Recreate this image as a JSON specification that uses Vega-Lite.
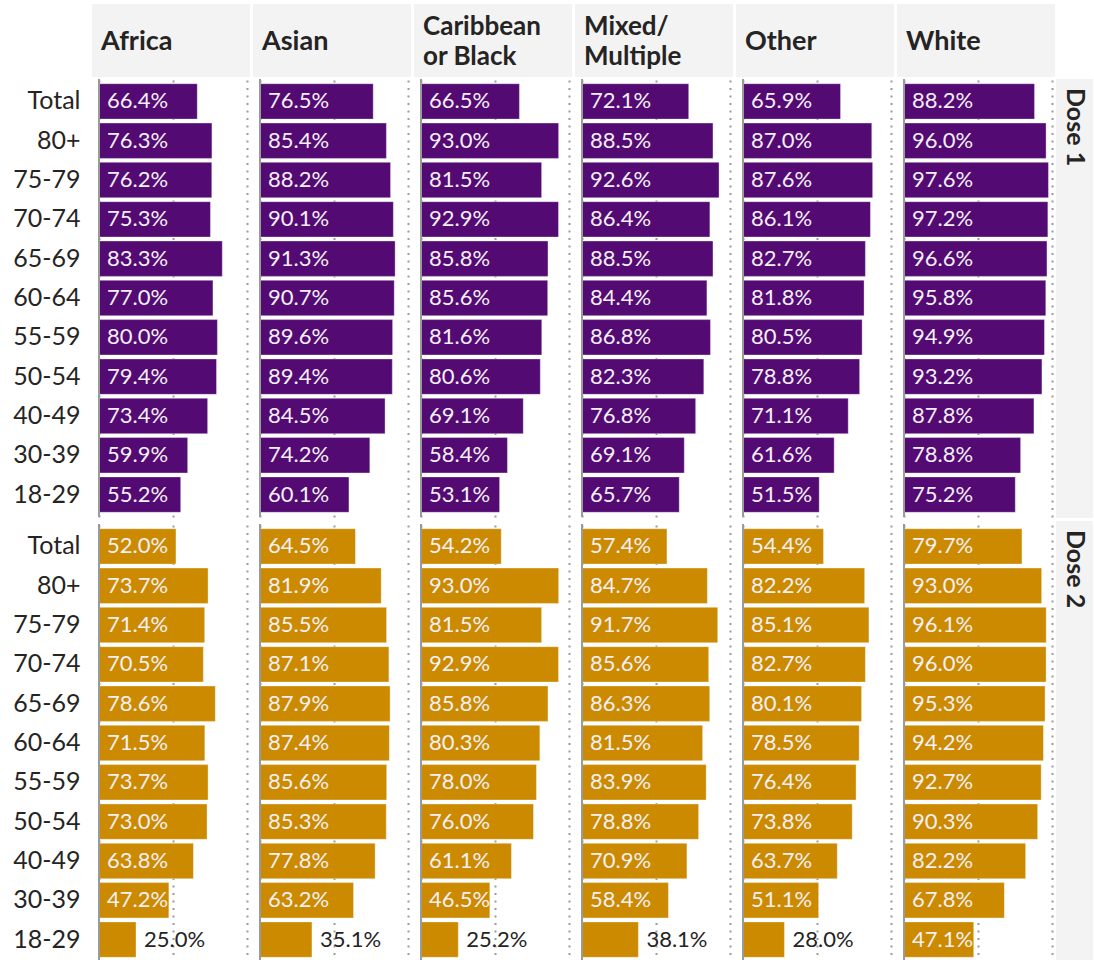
{
  "$schema": "https://vega.github.io/schema/vega-lite/v6.json",
  "background": "white",
  "padding": {"left": 12, "top": 4, "right": 0, "bottom": 0},
  "config": {
    "font": "Lato",
    "view": {"stroke": null}
  },
  "vconcat": [
    {
      "data": {
        "values": [
          {"e": "Africa", "t": "Africa", "s": "75-79"},
          {"e": "Asian", "t": "Asian", "s": "75-79"},
          {"e": "Caribbean or Black", "t": "Caribbean\nor Black", "s": "75-79"},
          {"e": "Mixed/Multiple", "t": "Mixed/\nMultiple", "s": "75-79"},
          {"e": "Other", "t": "Other", "s": "75-79"},
          {"e": "White", "t": "White", "s": "75-79"}
        ]
      },
      "facet": {
        "column": {
          "field": "e",
          "type": "nominal",
          "header": null,
          "sort": ["Africa", "Asian", "Caribbean or Black", "Mixed/Multiple", "Other", "White"]
        }
      },
      "spacing": 3,
      "spec": {
        "width": 148,
        "height": 73,
        "layer": [
          {
            "mark": {"type": "rect", "color": "#f3f3f3"},
            "encoding": {
              "x": {"datum": -0.047, "type": "quantitative", "scale": {"domain": [0, 1]}, "axis": null},
              "x2": {"datum": 1.02},
              "y": {
                "field": "s",
                "type": "nominal",
                "scale": {"paddingInner": 0, "paddingOuter": 0},
                "axis": {
                  "title": null,
                  "ticks": false,
                  "domain": false,
                  "labelColor": "transparent",
                  "labelFont": "Lato",
                  "labelFontSize": 25,
                  "labelPadding": 4
                }
              }
            }
          },
          {
            "transform": [{"filter": "indexof(datum.t, '\\n') < 0"}],
            "mark": {
              "type": "text",
              "align": "left",
              "baseline": "middle",
              "dx": 2,
              "dy": 1,
              "fontSize": 27,
              "fontWeight": "bold",
              "color": "#252423"
            },
            "encoding": {
              "x": {"datum": 0, "type": "quantitative"},
              "y": {"field": "s", "type": "nominal"},
              "text": {"field": "t"}
            }
          },
          {
            "transform": [{"filter": "indexof(datum.t, '\\n') >= 0"}],
            "mark": {
              "type": "text",
              "align": "left",
              "baseline": "middle",
              "dx": 2,
              "dy": -14,
              "fontSize": 26,
              "fontWeight": "bold",
              "color": "#252423",
              "lineBreak": "\n",
              "lineHeight": 30
            },
            "encoding": {
              "x": {"datum": 0, "type": "quantitative"},
              "y": {"field": "s", "type": "nominal"},
              "text": {"field": "t"}
            }
          }
        ]
      }
    },
    {
      "hconcat": [
        {
          "data": {
            "values": [
              {"e": "Africa", "d": "Dose 1", "a": "Total", "v": 0.664},
              {"e": "Africa", "d": "Dose 1", "a": "80+", "v": 0.763},
              {"e": "Africa", "d": "Dose 1", "a": "75-79", "v": 0.762},
              {"e": "Africa", "d": "Dose 1", "a": "70-74", "v": 0.753},
              {"e": "Africa", "d": "Dose 1", "a": "65-69", "v": 0.833},
              {"e": "Africa", "d": "Dose 1", "a": "60-64", "v": 0.770},
              {"e": "Africa", "d": "Dose 1", "a": "55-59", "v": 0.800},
              {"e": "Africa", "d": "Dose 1", "a": "50-54", "v": 0.794},
              {"e": "Africa", "d": "Dose 1", "a": "40-49", "v": 0.734},
              {"e": "Africa", "d": "Dose 1", "a": "30-39", "v": 0.599},
              {"e": "Africa", "d": "Dose 1", "a": "18-29", "v": 0.552},
              {"e": "Asian", "d": "Dose 1", "a": "Total", "v": 0.765},
              {"e": "Asian", "d": "Dose 1", "a": "80+", "v": 0.854},
              {"e": "Asian", "d": "Dose 1", "a": "75-79", "v": 0.882},
              {"e": "Asian", "d": "Dose 1", "a": "70-74", "v": 0.901},
              {"e": "Asian", "d": "Dose 1", "a": "65-69", "v": 0.913},
              {"e": "Asian", "d": "Dose 1", "a": "60-64", "v": 0.907},
              {"e": "Asian", "d": "Dose 1", "a": "55-59", "v": 0.896},
              {"e": "Asian", "d": "Dose 1", "a": "50-54", "v": 0.894},
              {"e": "Asian", "d": "Dose 1", "a": "40-49", "v": 0.845},
              {"e": "Asian", "d": "Dose 1", "a": "30-39", "v": 0.742},
              {"e": "Asian", "d": "Dose 1", "a": "18-29", "v": 0.601},
              {"e": "Caribbean or Black", "d": "Dose 1", "a": "Total", "v": 0.665},
              {"e": "Caribbean or Black", "d": "Dose 1", "a": "80+", "v": 0.930},
              {"e": "Caribbean or Black", "d": "Dose 1", "a": "75-79", "v": 0.815},
              {"e": "Caribbean or Black", "d": "Dose 1", "a": "70-74", "v": 0.929},
              {"e": "Caribbean or Black", "d": "Dose 1", "a": "65-69", "v": 0.858},
              {"e": "Caribbean or Black", "d": "Dose 1", "a": "60-64", "v": 0.856},
              {"e": "Caribbean or Black", "d": "Dose 1", "a": "55-59", "v": 0.816},
              {"e": "Caribbean or Black", "d": "Dose 1", "a": "50-54", "v": 0.806},
              {"e": "Caribbean or Black", "d": "Dose 1", "a": "40-49", "v": 0.691},
              {"e": "Caribbean or Black", "d": "Dose 1", "a": "30-39", "v": 0.584},
              {"e": "Caribbean or Black", "d": "Dose 1", "a": "18-29", "v": 0.531},
              {"e": "Mixed/Multiple", "d": "Dose 1", "a": "Total", "v": 0.721},
              {"e": "Mixed/Multiple", "d": "Dose 1", "a": "80+", "v": 0.885},
              {"e": "Mixed/Multiple", "d": "Dose 1", "a": "75-79", "v": 0.926},
              {"e": "Mixed/Multiple", "d": "Dose 1", "a": "70-74", "v": 0.864},
              {"e": "Mixed/Multiple", "d": "Dose 1", "a": "65-69", "v": 0.885},
              {"e": "Mixed/Multiple", "d": "Dose 1", "a": "60-64", "v": 0.844},
              {"e": "Mixed/Multiple", "d": "Dose 1", "a": "55-59", "v": 0.868},
              {"e": "Mixed/Multiple", "d": "Dose 1", "a": "50-54", "v": 0.823},
              {"e": "Mixed/Multiple", "d": "Dose 1", "a": "40-49", "v": 0.768},
              {"e": "Mixed/Multiple", "d": "Dose 1", "a": "30-39", "v": 0.691},
              {"e": "Mixed/Multiple", "d": "Dose 1", "a": "18-29", "v": 0.657},
              {"e": "Other", "d": "Dose 1", "a": "Total", "v": 0.659},
              {"e": "Other", "d": "Dose 1", "a": "80+", "v": 0.870},
              {"e": "Other", "d": "Dose 1", "a": "75-79", "v": 0.876},
              {"e": "Other", "d": "Dose 1", "a": "70-74", "v": 0.861},
              {"e": "Other", "d": "Dose 1", "a": "65-69", "v": 0.827},
              {"e": "Other", "d": "Dose 1", "a": "60-64", "v": 0.818},
              {"e": "Other", "d": "Dose 1", "a": "55-59", "v": 0.805},
              {"e": "Other", "d": "Dose 1", "a": "50-54", "v": 0.788},
              {"e": "Other", "d": "Dose 1", "a": "40-49", "v": 0.711},
              {"e": "Other", "d": "Dose 1", "a": "30-39", "v": 0.616},
              {"e": "Other", "d": "Dose 1", "a": "18-29", "v": 0.515},
              {"e": "White", "d": "Dose 1", "a": "Total", "v": 0.882},
              {"e": "White", "d": "Dose 1", "a": "80+", "v": 0.960},
              {"e": "White", "d": "Dose 1", "a": "75-79", "v": 0.976},
              {"e": "White", "d": "Dose 1", "a": "70-74", "v": 0.972},
              {"e": "White", "d": "Dose 1", "a": "65-69", "v": 0.966},
              {"e": "White", "d": "Dose 1", "a": "60-64", "v": 0.958},
              {"e": "White", "d": "Dose 1", "a": "55-59", "v": 0.949},
              {"e": "White", "d": "Dose 1", "a": "50-54", "v": 0.932},
              {"e": "White", "d": "Dose 1", "a": "40-49", "v": 0.878},
              {"e": "White", "d": "Dose 1", "a": "30-39", "v": 0.788},
              {"e": "White", "d": "Dose 1", "a": "18-29", "v": 0.752},
              {"e": "Africa", "d": "Dose 2", "a": "Total", "v": 0.520},
              {"e": "Africa", "d": "Dose 2", "a": "80+", "v": 0.737},
              {"e": "Africa", "d": "Dose 2", "a": "75-79", "v": 0.714},
              {"e": "Africa", "d": "Dose 2", "a": "70-74", "v": 0.705},
              {"e": "Africa", "d": "Dose 2", "a": "65-69", "v": 0.786},
              {"e": "Africa", "d": "Dose 2", "a": "60-64", "v": 0.715},
              {"e": "Africa", "d": "Dose 2", "a": "55-59", "v": 0.737},
              {"e": "Africa", "d": "Dose 2", "a": "50-54", "v": 0.730},
              {"e": "Africa", "d": "Dose 2", "a": "40-49", "v": 0.638},
              {"e": "Africa", "d": "Dose 2", "a": "30-39", "v": 0.472},
              {"e": "Africa", "d": "Dose 2", "a": "18-29", "v": 0.250},
              {"e": "Asian", "d": "Dose 2", "a": "Total", "v": 0.645},
              {"e": "Asian", "d": "Dose 2", "a": "80+", "v": 0.819},
              {"e": "Asian", "d": "Dose 2", "a": "75-79", "v": 0.855},
              {"e": "Asian", "d": "Dose 2", "a": "70-74", "v": 0.871},
              {"e": "Asian", "d": "Dose 2", "a": "65-69", "v": 0.879},
              {"e": "Asian", "d": "Dose 2", "a": "60-64", "v": 0.874},
              {"e": "Asian", "d": "Dose 2", "a": "55-59", "v": 0.856},
              {"e": "Asian", "d": "Dose 2", "a": "50-54", "v": 0.853},
              {"e": "Asian", "d": "Dose 2", "a": "40-49", "v": 0.778},
              {"e": "Asian", "d": "Dose 2", "a": "30-39", "v": 0.632},
              {"e": "Asian", "d": "Dose 2", "a": "18-29", "v": 0.351},
              {"e": "Caribbean or Black", "d": "Dose 2", "a": "Total", "v": 0.542},
              {"e": "Caribbean or Black", "d": "Dose 2", "a": "80+", "v": 0.930},
              {"e": "Caribbean or Black", "d": "Dose 2", "a": "75-79", "v": 0.815},
              {"e": "Caribbean or Black", "d": "Dose 2", "a": "70-74", "v": 0.929},
              {"e": "Caribbean or Black", "d": "Dose 2", "a": "65-69", "v": 0.858},
              {"e": "Caribbean or Black", "d": "Dose 2", "a": "60-64", "v": 0.803},
              {"e": "Caribbean or Black", "d": "Dose 2", "a": "55-59", "v": 0.780},
              {"e": "Caribbean or Black", "d": "Dose 2", "a": "50-54", "v": 0.760},
              {"e": "Caribbean or Black", "d": "Dose 2", "a": "40-49", "v": 0.611},
              {"e": "Caribbean or Black", "d": "Dose 2", "a": "30-39", "v": 0.465},
              {"e": "Caribbean or Black", "d": "Dose 2", "a": "18-29", "v": 0.252},
              {"e": "Mixed/Multiple", "d": "Dose 2", "a": "Total", "v": 0.574},
              {"e": "Mixed/Multiple", "d": "Dose 2", "a": "80+", "v": 0.847},
              {"e": "Mixed/Multiple", "d": "Dose 2", "a": "75-79", "v": 0.917},
              {"e": "Mixed/Multiple", "d": "Dose 2", "a": "70-74", "v": 0.856},
              {"e": "Mixed/Multiple", "d": "Dose 2", "a": "65-69", "v": 0.863},
              {"e": "Mixed/Multiple", "d": "Dose 2", "a": "60-64", "v": 0.815},
              {"e": "Mixed/Multiple", "d": "Dose 2", "a": "55-59", "v": 0.839},
              {"e": "Mixed/Multiple", "d": "Dose 2", "a": "50-54", "v": 0.788},
              {"e": "Mixed/Multiple", "d": "Dose 2", "a": "40-49", "v": 0.709},
              {"e": "Mixed/Multiple", "d": "Dose 2", "a": "30-39", "v": 0.584},
              {"e": "Mixed/Multiple", "d": "Dose 2", "a": "18-29", "v": 0.381},
              {"e": "Other", "d": "Dose 2", "a": "Total", "v": 0.544},
              {"e": "Other", "d": "Dose 2", "a": "80+", "v": 0.822},
              {"e": "Other", "d": "Dose 2", "a": "75-79", "v": 0.851},
              {"e": "Other", "d": "Dose 2", "a": "70-74", "v": 0.827},
              {"e": "Other", "d": "Dose 2", "a": "65-69", "v": 0.801},
              {"e": "Other", "d": "Dose 2", "a": "60-64", "v": 0.785},
              {"e": "Other", "d": "Dose 2", "a": "55-59", "v": 0.764},
              {"e": "Other", "d": "Dose 2", "a": "50-54", "v": 0.738},
              {"e": "Other", "d": "Dose 2", "a": "40-49", "v": 0.637},
              {"e": "Other", "d": "Dose 2", "a": "30-39", "v": 0.511},
              {"e": "Other", "d": "Dose 2", "a": "18-29", "v": 0.280},
              {"e": "White", "d": "Dose 2", "a": "Total", "v": 0.797},
              {"e": "White", "d": "Dose 2", "a": "80+", "v": 0.930},
              {"e": "White", "d": "Dose 2", "a": "75-79", "v": 0.961},
              {"e": "White", "d": "Dose 2", "a": "70-74", "v": 0.960},
              {"e": "White", "d": "Dose 2", "a": "65-69", "v": 0.953},
              {"e": "White", "d": "Dose 2", "a": "60-64", "v": 0.942},
              {"e": "White", "d": "Dose 2", "a": "55-59", "v": 0.927},
              {"e": "White", "d": "Dose 2", "a": "50-54", "v": 0.903},
              {"e": "White", "d": "Dose 2", "a": "40-49", "v": 0.822},
              {"e": "White", "d": "Dose 2", "a": "30-39", "v": 0.678},
              {"e": "White", "d": "Dose 2", "a": "18-29", "v": 0.471}
            ]
          },
          "facet": {
            "row": {"field": "d", "type": "nominal", "header": null},
            "column": {
              "field": "e",
              "type": "nominal",
              "header": null,
              "sort": ["Africa", "Asian", "Caribbean or Black", "Mixed/Multiple", "Other", "White"]
            }
          },
          "spacing": {"row": 5, "column": 12},
          "spec": {
            "width": 148,
            "height": 438,
            "layer": [
              {
                "mark": {"type": "bar", "stroke": "#ffffff", "strokeOpacity": 0.35, "strokeWidth": 1},
                "encoding": {
                  "y": {
                    "field": "a",
                    "type": "nominal",
                    "sort": ["Total", "80+", "75-79", "70-74", "65-69", "60-64", "55-59", "50-54", "40-49", "30-39", "18-29"],
                    "scale": {"paddingInner": 0.1, "paddingOuter": 0.12},
                    "axis": {
                      "title": null,
                      "ticks": false,
                      "domain": false,
                      "labelFont": "Lato",
                      "labelFontSize": 25,
                      "labelColor": "#252423",
                      "labelPadding": 18
                    }
                  },
                  "x": {
                    "field": "v",
                    "type": "quantitative",
                    "scale": {"domain": [0, 1]},
                    "axis": {
                      "title": null,
                      "values": [0, 0.25, 0.5, 0.75, 1],
                      "labels": false,
                      "ticks": false,
                      "domain": false,
                      "grid": true,
                      "gridColor": "#9a9a9a",
                      "gridDash": [2, 5.5],
                      "gridWidth": 2
                    }
                  },
                  "color": {
                    "field": "d",
                    "type": "nominal",
                    "scale": {"domain": ["Dose 1", "Dose 2"], "range": ["#530A73", "#CC8A00"]},
                    "legend": null
                  }
                }
              },
              {
                "mark": {"type": "rule", "color": "#9a9a9a", "strokeWidth": 2},
                "encoding": {"x": {"datum": 0, "type": "quantitative"}}
              },
              {
                "transform": [{"filter": "datum.v >= 0.4"}],
                "mark": {"type": "text", "align": "left", "baseline": "middle", "dx": 8, "fontSize": 22, "color": "#f4f0f6"},
                "encoding": {
                  "y": {"field": "a", "type": "nominal", "sort": ["Total", "80+", "75-79", "70-74", "65-69", "60-64", "55-59", "50-54", "40-49", "30-39", "18-29"]},
                  "x": {"datum": 0, "type": "quantitative"},
                  "text": {"field": "v", "format": ".1%"}
                }
              },
              {
                "transform": [{"filter": "datum.v < 0.4"}],
                "mark": {"type": "text", "align": "left", "baseline": "middle", "dx": 8, "fontSize": 22, "color": "#252423"},
                "encoding": {
                  "y": {"field": "a", "type": "nominal", "sort": ["Total", "80+", "75-79", "70-74", "65-69", "60-64", "55-59", "50-54", "40-49", "30-39", "18-29"]},
                  "x": {"field": "v", "type": "quantitative"},
                  "text": {"field": "v", "format": ".1%"}
                }
              }
            ]
          }
        },
        {
          "data": {"values": [{"d": "Dose 1"}, {"d": "Dose 2"}]},
          "facet": {"row": {"field": "d", "type": "nominal", "header": null}},
          "spacing": 3,
          "spec": {
            "width": 37,
            "height": 439,
            "layer": [
              {
                "mark": {"type": "rect", "color": "#f3f3f3"},
                "encoding": {
                  "x": {"datum": 0, "type": "quantitative", "scale": {"domain": [0, 1]}, "axis": null},
                  "x2": {"datum": 1},
                  "y": {"datum": 0, "type": "quantitative", "scale": {"domain": [0, 1]}, "axis": null},
                  "y2": {"datum": 1}
                }
              },
              {
                "mark": {"type": "text", "angle": 90, "align": "left", "baseline": "middle", "dx": 9, "fontSize": 25, "fontWeight": "bold", "color": "#252423"},
                "encoding": {
                  "x": {"datum": 0.5, "type": "quantitative"},
                  "y": {"datum": 1, "type": "quantitative"},
                  "text": {"field": "d"}
                }
              }
            ]
          }
        }
      ],
      "spacing": 4
    }
  ],
  "spacing": 1
}
